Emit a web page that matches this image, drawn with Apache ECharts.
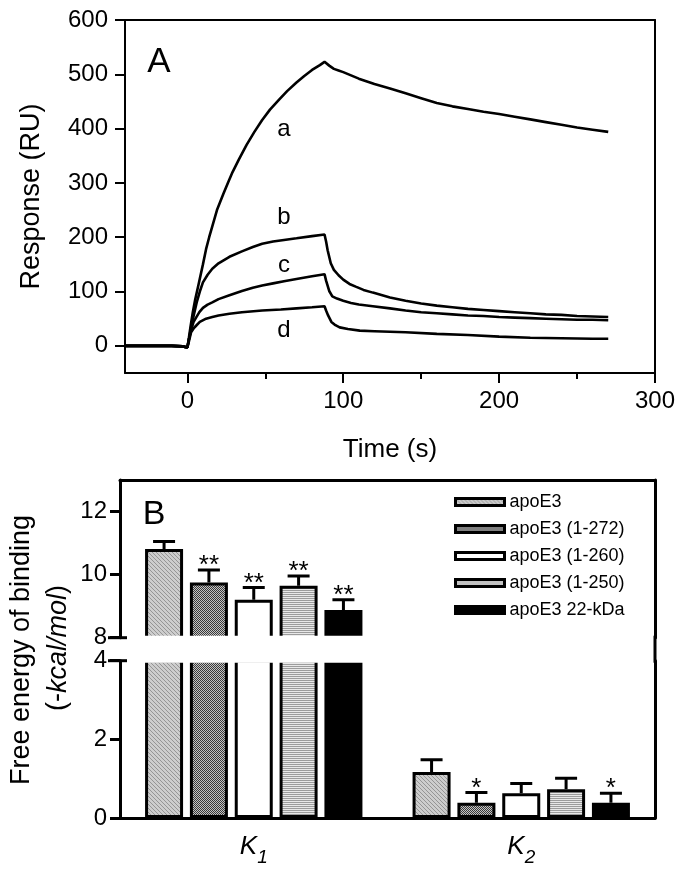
<!DOCTYPE html>
<html>
<head>
<meta charset="utf-8">
<script src="https://cdn.jsdelivr.net/npm/echarts@6/dist/echarts.min.js"></script>
<style>html,body{margin:0;padding:0;background:#fff}#c{width:682px;height:870px}</style>
</head>
<body>
<div id="c"></div>
<script>
// ---------- Panel A data (time s, response RU) ----------
const curveA = [[-40,0],[-30,0],[-20,0],[-10,0],[-3,-1],[0,-3],[1,15],[2,35],[3.5,62],[5,85],[7.5,117],[10,150],[12,178],[14,200],[16,220],[19,250],[23,279],[26,300],[29,320],[33,343],[38,370],[43,394],[48,416],[53,435],[59,454],[64,469],[70,485],[75,497],[80,508],[85,517],[88,523],[91,516],[94,510],[97,507],[100,504],[105,498],[110,492],[120,482],[130,474],[140,465],[150,456],[160,447],[170,441],[180,436],[190,431],[200,427],[210,422],[220,417],[230,412],[240,407],[250,402],[260,398],[270,394]];
const curveB = [[-40,0],[-30,0],[-20,0],[-10,0],[-3,-1],[0,-3],[1,12],[2.5,35],[4,55],[6,80],[8,100],[10,117],[13,131],[16,142],[20,152],[27,164],[35,174],[42,182],[48,188],[55,192],[62,195],[70,198],[80,202],[88,205],[89,192],[90,176],[92,152],[94,140],[97,130],[100,122],[104,114],[108,109],[113,103],[119,98],[130,89],[140,83],[150,78],[160,74],[170,71],[180,68],[190,66],[200,64],[210,62],[220,60],[230,58],[240,57],[250,55],[260,54],[270,53]];
const curveC = [[-40,0],[-30,0],[-20,0],[-10,0],[-3,-1],[0,-3],[1,12],[2.5,30],[4,44],[5.6,52],[7.7,62],[10,70],[13,76],[16,80],[20,86],[27,93],[35,101],[42,107],[48,111],[55,115],[62,119],[70,123],[80,128],[88,132],[89,120],[91,101],[93,91],[96,87],[100,83],[105,79],[110,76],[119,73],[130,69],[140,65],[150,62],[160,60],[170,58],[180,56],[190,55],[200,53],[210,52],[220,51],[230,50],[240,49],[250,48],[260,48],[270,47]];
const curveD = [[-40,0],[-30,0],[-20,0],[-10,0],[-3,-1],[0,-3],[1,8],[2.4,25],[4,32],[5.6,37],[8,44],[12,50],[16,53],[20,56],[27,59],[35,62],[48,65],[60,67],[70,69],[80,71],[88,73],[89,65],[90.3,56],[92.4,44],[95,38],[97.7,34],[103,31],[110.6,28],[120,27],[140,25],[160,22],[180,20],[200,17],[220,15],[240,14],[260,13],[270,13]];
const curveNames = ['a','b','c','d'];
const curveLabelPos = [[62,399],[62,237],[62,148],[62,28]];
const xTicksA = [0,100,200,300];
const xMinorTicksA = [50,150,250];
const yTicksA = [0,100,200,300,400,500,600];

// ---------- Panel B data ----------
const groups = ['K1','K2'];
const groupSub = ['1','2'];
const seriesNames = ['apoE3','apoE3 (1-272)','apoE3 (1-260)','apoE3 (1-250)','apoE3 22-kDa'];
const means = [[10.81,1.17],[9.75,0.39],[9.20,0.63],[9.65,0.73],[8.88,0.39]];
const errs  = [[0.24,0.31],[0.40,0.26],[0.39,0.25],[0.31,0.28],[0.32,0.24]];
const sig   = [['',''],['**','*'],['**',''],['**',''],['**','*']];
const yTicksUpper = [8,10,12];
const yTicksLower = [0,2,4];

const FONT = 'Liberation Sans, Arial, sans-serif';

function pattern(kind){
  const c = document.createElement('canvas');
  const ctx = c.getContext('2d');
  if (kind === 'diag'){
    c.width = 4; c.height = 4;
    ctx.fillStyle = '#cdcdcd'; ctx.fillRect(0,0,4,4);
    ctx.fillStyle = '#959595';
    for (let i=0;i<4;i++) ctx.fillRect(i,i,1,1);
  } else if (kind === 'check'){
    c.width = 2; c.height = 2;
    ctx.fillStyle = '#c4c4c4'; ctx.fillRect(0,0,2,2);
    ctx.fillStyle = '#3a3a3a'; ctx.fillRect(0,0,1,1); ctx.fillRect(1,1,1,1);
  } else if (kind === 'hstripe'){
    c.width = 2; c.height = 2;
    ctx.fillStyle = '#e8e8e8'; ctx.fillRect(0,0,2,2);
    ctx.fillStyle = '#9c9c9c'; ctx.fillRect(0,0,2,1);
  }
  return {image: c, repeat: 'repeat'};
}
const fills = [pattern('diag'), pattern('check'), '#ffffff', pattern('hstripe'), '#000000'];

const BAR_W = 38, BAR_GAP = 0.18;
const step = BAR_W * (1 + BAR_GAP);

const chart = echarts.init(document.getElementById('c'), null, {renderer:'canvas'});

const lineAxisStyle = w => ({show:true, onZero:false, lineStyle:{color:'#000', width:w}});
const noTick = {show:false};
const noLabel = {show:false};

function errRender(params, api){
  const cat = api.value(0), mean = api.value(1), err = api.value(2), s = api.value(3);
  const base = api.coord([cat, mean]);
  const top = api.coord([cat, mean + err]);
  const x = base[0] + (s - 2) * step;
  const txt = sig[s][cat];
  return {type:'group', children:[
    {type:'line', shape:{x1:x, y1:base[1], x2:x, y2:top[1]}, style:{stroke:'#000', lineWidth:3}},
    {type:'line', shape:{x1:x-11, y1:top[1], x2:x+11, y2:top[1]}, style:{stroke:'#000', lineWidth:3}},
    {type:'text', style:{text:txt, x:x, y:top[1]-4, align:'center', verticalAlign:'middle', font:'26px ' + FONT, fill:'#000'}}
  ]};
}
const errData = [];
for (let s=0;s<seriesNames.length;s++) for (let g=0; g<groups.length; g++) errData.push([g, means[s][g], errs[s][g], s]);

const series = [];
[curveA, curveB, curveC, curveD].forEach((d,i)=>{
  series.push({type:'line', name:'curve'+curveNames[i], xAxisIndex:0, yAxisIndex:0, data:d, showSymbol:false, symbol:'none', smooth:false, lineStyle:{color:'#000', width:2.6}, animation:false, z:3});
});
series.push({type:'scatter', xAxisIndex:0, yAxisIndex:0, symbolSize:1, data:curveLabelPos, animation:false,
  itemStyle:{opacity:0},
  label:{show:true, position:'inside', opacity:1, formatter:p=>curveNames[p.dataIndex], fontSize:24, fontFamily:FONT, color:'#000'}});

[[3,2],[4,4]].forEach(([xi, yi])=>{
  seriesNames.forEach((n,s)=>{
    series.push({type:'bar', name:n, xAxisIndex:xi, yAxisIndex:yi, barWidth:BAR_W, barGap:(BAR_GAP*100)+'%',
      data: groups.map((g,j)=>means[s][j]), animation:false,
      itemStyle:{color:fills[s], borderColor:'#000', borderWidth:3}});
  });
  series.push({type:'custom', xAxisIndex:xi, yAxisIndex:yi, data:errData, renderItem:errRender, clip:true, z:5, animation:false,
    encode:{x:0, y:1}});
});

const option = {
  backgroundColor:'#fff',
  animation:false,
  textStyle:{fontFamily:FONT},
  grid:[
    {left:125, top:20, width:530, height:353},
    {left:120, top:480, width:535, height:157.7},
    {left:120, top:660.7, width:535, height:157.3}
  ],
  legend:{data:seriesNames, orient:'vertical', left:449, top:488, itemWidth:49, itemHeight:7, itemGap:9,
    icon:'rect', itemStyle:{borderColor:'#000', borderWidth:3},
    textStyle:{fontSize:18, fontFamily:FONT, color:'#000'}, selectedMode:false},
  xAxis:[
    {type:'value', gridIndex:0, min:-40, max:300, position:'bottom', axisLine:lineAxisStyle(2),
      axisTick:{show:true, length:10, lineStyle:{width:2, color:'#000'}, customValues:xTicksA},
      axisLabel:{customValues:xTicksA, fontSize:24, color:'#000', margin:16, fontFamily:FONT},
      splitLine:{show:false}, name:'Time (s)', nameLocation:'middle', nameGap:64,
      nameTextStyle:{fontSize:26, color:'#000', fontFamily:FONT}},
    {type:'value', gridIndex:0, min:-40, max:300, position:'bottom', axisLine:{show:false, onZero:false},
      axisTick:{show:true, length:6, lineStyle:{width:2, color:'#000'}, customValues:xMinorTicksA},
      axisLabel:noLabel, splitLine:{show:false}},
    {type:'value', gridIndex:0, min:-40, max:300, position:'top', axisLine:lineAxisStyle(2), axisTick:noTick, axisLabel:noLabel, splitLine:{show:false}},
    {type:'category', gridIndex:1, data:groups, position:'top', axisLine:lineAxisStyle(3), axisTick:noTick, axisLabel:noLabel},
    {type:'category', gridIndex:2, data:groups, position:'bottom', axisLine:lineAxisStyle(3), axisTick:noTick,
      axisLabel:{margin:9, formatter:(v,i)=>'{k|K}{s|'+groupSub[i]+'}',
        rich:{k:{fontSize:26, fontStyle:'italic', fontFamily:FONT, color:'#000', lineHeight:40, verticalAlign:'middle'},
              s:{fontSize:19, fontStyle:'italic', fontFamily:FONT, color:'#000', lineHeight:19, verticalAlign:'bottom'}}}}
  ],
  yAxis:[
    {type:'value', gridIndex:0, min:-50, max:600, position:'left', axisLine:lineAxisStyle(2),
      axisTick:{show:true, length:10, lineStyle:{width:2, color:'#000'}, customValues:yTicksA},
      axisLabel:{customValues:yTicksA, fontSize:24, color:'#000', margin:17, fontFamily:FONT},
      splitLine:{show:false}, name:'Response (RU)', nameLocation:'middle', nameRotate:90, nameGap:80,
      nameTextStyle:{fontSize:27, color:'#000', fontFamily:FONT}},
    {type:'value', gridIndex:0, min:-50, max:600, position:'right', axisLine:lineAxisStyle(2), axisTick:noTick, axisLabel:noLabel, splitLine:{show:false}},
    {type:'value', gridIndex:1, min:8, max:13, position:'left', axisLine:lineAxisStyle(3),
      axisTick:{show:true, length:10, lineStyle:{width:3, color:'#000'}, customValues:yTicksUpper},
      axisLabel:{customValues:yTicksUpper, fontSize:24, color:'#000', margin:13, fontFamily:FONT},
      splitLine:{show:false}},
    {type:'value', gridIndex:1, min:8, max:13, position:'right', axisLine:lineAxisStyle(3), axisTick:noTick, axisLabel:noLabel, splitLine:{show:false}},
    {type:'value', gridIndex:2, min:0, max:4, position:'left', axisLine:lineAxisStyle(3),
      axisTick:{show:true, length:10, lineStyle:{width:3, color:'#000'}, customValues:yTicksLower},
      axisLabel:{customValues:yTicksLower, fontSize:24, color:'#000', margin:13, fontFamily:FONT},
      splitLine:{show:false}},
    {type:'value', gridIndex:2, min:0, max:4, position:'right', axisLine:lineAxisStyle(3), axisTick:noTick, axisLabel:noLabel, splitLine:{show:false}}
  ],
  series: series
};
chart.setOption(option);

// break band and annotations, positioned from the axes
const y8 = chart.convertToPixel({yAxisIndex:2}, 8);
const y4 = chart.convertToPixel({yAxisIndex:4}, 4);
const xl = 120, xr = 655;
chart.setOption({graphic:[
  {type:'rect', z:50, shape:{x:xl+2, y:y8-2, width:xr-xl-4, height:(y4-y8)+4}, style:{fill:'#fff'}},
  {type:'line', z:51, shape:{x1:xl-12, y1:y8, x2:xl+7, y2:y8}, style:{stroke:'#000', lineWidth:3}},
  {type:'line', z:51, shape:{x1:xl-12, y1:y4, x2:xl+7, y2:y4}, style:{stroke:'#000', lineWidth:3}},
  {type:'line', z:51, shape:{x1:xr, y1:y8-2, x2:xr, y2:y4+2}, style:{stroke:'#000', lineWidth:3}},
  {type:'text', z:51, style:{text:'A', x:159, y:62, align:'center', verticalAlign:'middle', font:'35px ' + FONT, fill:'#000'}},
  {type:'text', z:51, style:{text:'B', x:154, y:515, align:'center', verticalAlign:'middle', font:'34px ' + FONT, fill:'#000'}},
  {type:'text', z:51, rotation:Math.PI/2, x:22, y:650, style:{text:'Free energy of binding', x:0, y:0, align:'center', verticalAlign:'middle', font:'27px ' + FONT, fill:'#000'}},
  {type:'text', z:51, rotation:Math.PI/2, x:58, y:648, style:{text:'{n|(-}{i|kcal/mol}{n|)}', x:0, y:0, align:'center', verticalAlign:'middle',
    rich:{n:{fontSize:27, fontFamily:FONT, fill:'#000'}, i:{fontSize:27, fontFamily:FONT, fontStyle:'italic', fill:'#000'}}}}
]});
</script>
</body>
</html>
